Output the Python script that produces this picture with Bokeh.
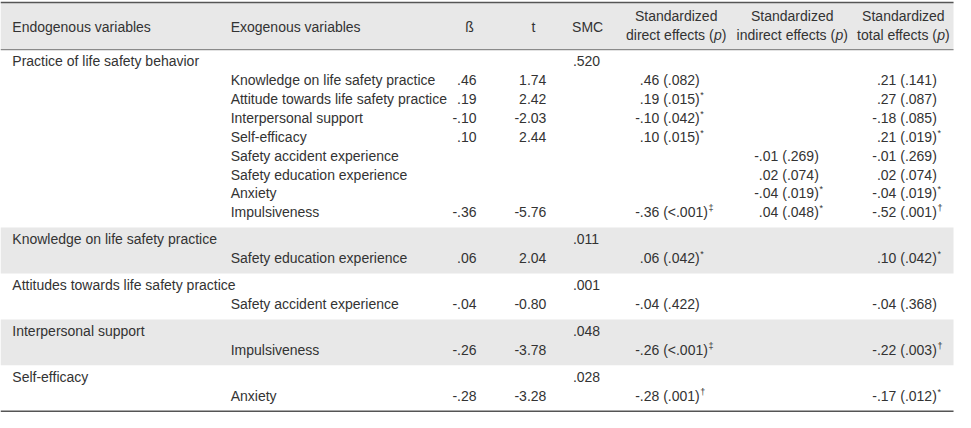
from bokeh.plotting import figure
from bokeh.models import ColumnDataSource, Range1d
from bokeh.embed import file_html
from bokeh.resources import INLINE
from bokeh.core.properties import value

# ---------------- data ----------------
endogenous = ["Practice of life safety behavior", "Knowledge on life safety practice",
              "Attitudes towards life safety practice", "Interpersonal support", "Self-efficacy"]
smc = [".520", ".011", ".001", ".048", ".028"]
group_sizes = [8, 1, 1, 1, 1]
exogenous = ["Knowledge on life safety practice", "Attitude towards life safety practice",
             "Interpersonal support", "Self-efficacy", "Safety accident experience",
             "Safety education experience", "Anxiety", "Impulsiveness",
             "Safety education experience", "Safety accident experience",
             "Impulsiveness", "Anxiety"]
beta = [0.46, 0.19, -0.10, 0.10, None, None, None, -0.36, 0.06, -0.04, -0.26, -0.28]
t_values = [1.74, 2.42, -2.03, 2.44, None, None, None, -5.76, 2.04, -0.80, -3.78, -3.28]
direct_est = [0.46, 0.19, -0.10, 0.10, None, None, None, -0.36, 0.06, -0.04, -0.26, -0.28]
direct_p = [".082", ".015", ".042", ".015", "", "", "", "<.001", ".042", ".422", "<.001", ".001"]
direct_sig = ["", "*", "*", "*", "", "", "", "‡", "*", "", "‡", "†"]
indirect_est = [None, None, None, None, -0.01, 0.02, -0.04, 0.04, None, None, None, None]
indirect_p = ["", "", "", "", ".269", ".074", ".019", ".048", "", "", "", ""]
indirect_sig = ["", "", "", "", "", "", "*", "*", "", "", "", ""]
total_est = [0.21, 0.27, -0.18, 0.21, -0.01, 0.02, -0.04, -0.52, 0.10, -0.04, -0.22, -0.17]
total_p = [".141", ".087", ".085", ".019", ".269", ".074", ".019", ".001", ".042", ".368", ".003", ".012"]
total_sig = ["", "", "", "*", "", "", "*", "†", "*", "", "†", "*"]

header_cols = ["ß", "t", "SMC"]
header_eff = ["direct effects (", "indirect effects (", "total effects ("]

# ---------------- styling / layout ----------------
W, H = 955, 412
XMAX, YMAX = 971, 424
SX = XMAX / W
FONT = "Liberation Sans"
FS = 14.0
TXT = "#333333"
BAND = "#e8e8e8"

AW = {' ': 278, '(': 333, ')': 333, '*': 389, '-': 333, '.': 278, '<': 584, 'ß': 611,
      '†': 556, '‡': 556}
for ch in "0123456789":
    AW[ch] = 556
for ch, w in zip("abcdefghijklmnopqrstuvwxyz",
                 [556, 556, 500, 556, 556, 278, 556, 556, 222, 222, 500, 222, 833, 556, 556, 556,
                  556, 333, 500, 278, 556, 500, 722, 500, 500, 500]):
    AW[ch] = w
for ch, w in zip("ABCDEFGHIJKLMNOPQRSTUVWXYZ",
                 [667, 667, 722, 722, 667, 611, 778, 722, 278, 500, 667, 556, 833, 722, 778, 667,
                  778, 722, 667, 611, 722, 667, 944, 667, 667, 611]):
    AW[ch] = w


def tw(s, fs=FS):
    return sum(AW.get(c, 556) for c in s) / 1000.0 * fs * SX


def coef(v):
    if v is None:
        return ""
    s = f"{abs(v):.2f}"
    s = s[1:] if s.startswith("0") else s
    return ("-" if v < 0 else "") + s


def tval(v):
    return "" if v is None else f"{v:.2f}"


p = figure(width=W, height=H, output_backend="svg", toolbar_location=None,
           x_range=Range1d(0, XMAX), y_range=Range1d(YMAX, 0), min_border=0)
p.axis.visible = False
p.grid.visible = False
p.outline_line_color = None
p.background_fill_color = "white"
p.border_fill_color = "white"

header_top, header_bot = 2.0, 50.5
row_h, pad_top, pad_bot = 19.4, 2.5, 6.0
table_left, table_right = 0, 969

# compute row positions
endo_y, exo_y, band_top, band_bot = [], [], [], []
y = header_bot
for n in group_sizes:
    top = y
    ey = top + pad_top + row_h / 2
    endo_y.append(ey)
    for k in range(n):
        exo_y.append(ey + row_h * (k + 1))
    y = ey + row_h * n + row_h / 2 + pad_bot
    band_top.append(top)
    band_bot.append(y)
table_bottom = band_bot[-1]

# header background and shaded bands
shade_idx = [i for i in range(len(group_sizes)) if i % 2 == 1]
p.quad(left=[table_left] + [table_left] * len(shade_idx),
       right=[table_right] + [table_right] * len(shade_idx),
       top=[header_top] + [band_top[i] for i in shade_idx],
       bottom=[header_bot] + [band_bot[i] for i in shade_idx],
       fill_color=BAND, line_color=None)

# rules
p.segment(x0=[table_left], x1=[table_right], y0=[header_top], y1=[header_top],
          line_color="#555555", line_width=1.6)
p.segment(x0=[table_left], x1=[table_right], y0=[header_bot], y1=[header_bot],
          line_color="#8a8a8a", line_width=1.3)
p.segment(x0=[table_left], x1=[table_right], y0=[table_bottom], y1=[table_bottom],
          line_color="#555555", line_width=1.6)


def put(xs, ys, texts, align="left", fs=FS, style="normal", yoff=0):
    src = ColumnDataSource(dict(x=xs, y=ys, t=texts))
    p.text(x="x", y="y", text="t", source=src, text_font=value(FONT),
           text_font_size=f"{fs}px", text_color=TXT, text_align=align,
           text_baseline="middle", text_font_style=style, y_offset=yoff)


# header
hy = 27
put([12, 234], [hy, hy], ["Endogenous variables", "Exogenous variables"])
put([477, 542, 597], [hy] * 3, header_cols, align="center")
eff_cx = [687, 805, 918]
put(eff_cx, [16] * 3, ["Standardized"] * 3, align="center")
for cx, lab in zip(eff_cx, header_eff):
    total = tw(lab) + tw("p") + tw(")")
    x0 = cx - total / 2
    put([x0], [36], [lab])
    put([x0 + tw(lab)], [36], ["p"], style="italic")
    put([x0 + tw(lab) + tw("p")], [36], [")"])

# endogenous and SMC
put([12] * len(endogenous), endo_y, endogenous)
put([582] * len(smc), endo_y, smc)

# exogenous rows
put([234] * len(exogenous), exo_y, exogenous)
put([484] * len(beta), exo_y, [coef(v) for v in beta], align="right")
put([555] * len(t_values), exo_y, [tval(v) for v in t_values], align="right")

SUP = 9.0
# direct effects: estimate decimal-aligned
dot_x = 650
for yy, e, pv, sg in zip(exo_y, direct_est, direct_p, direct_sig):
    if e is None:
        continue
    es = coef(e)
    end = dot_x + tw(es.lstrip("-"))
    s = f"{es} ({pv})"
    x0 = end - tw(es)
    put([x0], [yy], [s])
    if sg:
        put([x0 + tw(s) + 0.6], [yy], [sg], fs=SUP, yoff=-4)

# indirect & total: right-aligned on ")"
for right, ests, ps, sigs in [(832, indirect_est, indirect_p, indirect_sig),
                              (952, total_est, total_p, total_sig)]:
    xs, ys, ts, sxs, sys_, sts = [], [], [], [], [], []
    for yy, e, pv, sg in zip(exo_y, ests, ps, sigs):
        if e is None:
            continue
        xs.append(right); ys.append(yy); ts.append(f"{coef(e)} ({pv})")
        if sg:
            sxs.append(right + 0.6); sys_.append(yy); sts.append(sg)
    put(xs, ys, ts, align="right")
    if sts:
        put(sxs, sys_, sts, fs=SUP, yoff=-4)

open("out.html", "w").write(file_html(p, INLINE))
